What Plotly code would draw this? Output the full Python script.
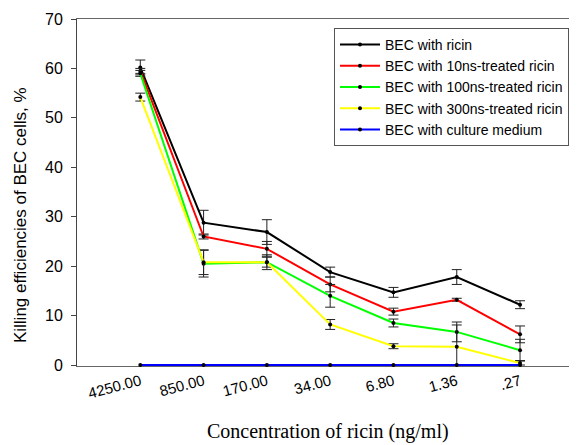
import plotly.graph_objects as go

categories = ["4250.00", "850.00", "170.00", "34.00", "6.80", "1.36", ".27"]
series_names = ["BEC with ricin", "BEC with 10ns-treated ricin", "BEC with 100ns-treated ricin",
                "BEC with 300ns-treated ricin", "BEC with culture medium"]
colors = ["#000000", "#ff0000", "#00ff00", "#ffff00", "#0000ff"]

ricin = [60.2, 28.8, 26.9, 18.8, 14.7, 17.8, 12.2]
ricin_err = [1.5, 2.5, 2.5, 1.0, 1.0, 1.5, 0.8]
ricin_err_minus = [1.5, 2.5, 2.5, 1.0, 1.0, 1.5, 0.8]
ns10 = [59.5, 26.0, 23.5, 16.3, 10.8, 13.2, 6.2]
ns10_err = [0.5, 0.5, 1.5, 1.5, 0.7, 0.3, 1.7]
ns10_err_minus = [0.5, 0.5, 1.5, 1.5, 0.7, 0.3, 1.7]
ns100 = [59.0, 20.5, 20.8, 14.0, 8.5, 6.7, 3.0]
ns100_err = [0.6, 2.7, 1.5, 2.3, 0.8, 2.0, 2.2]
ns100_err_minus = [0.6, 2.7, 1.5, 2.3, 0.8, 2.0, 2.2]
ns300 = [54.2, 20.8, 20.8, 8.2, 3.8, 3.7, 0.4]
ns300_err = [0.8, 2.5, 1.0, 1.0, 0.5, 4.4, 0.5]
ns300_err_minus = [0.8, 2.5, 1.0, 1.0, 0.5, 3.7, 0.4]
medium = [0, 0, 0, 0, 0, 0, 0]
medium_err = [0, 0, 0, 0, 0, 0, 0]
medium_err_minus = [0, 0, 0, 0, 0, 0, 0]

x_title = "Concentration of ricin (ng/ml)"
y_title = "Killing efficiencies of BEC cells, %"

values = [ricin, ns10, ns100, ns300, medium]
errors = [ricin_err, ns10_err, ns100_err, ns300_err, medium_err]
errors_minus = [ricin_err_minus, ns10_err_minus, ns100_err_minus, ns300_err_minus, medium_err_minus]

xpos = list(range(1, len(categories) + 1))

fig = go.Figure()
for name, col, vals, errs, errs_m in zip(series_names, colors, values, errors, errors_minus):
    fig.add_trace(go.Scatter(
        x=xpos, y=vals, name=name, mode="lines+markers",
        line=dict(color=col, width=2),
        marker=dict(color="black", size=4, symbol="circle"),
        error_y=dict(type="data", symmetric=False, array=errs, arrayminus=errs_m,
                     visible=any(e > 0 for e in errs),
                     color="#222222", thickness=1, width=5),
        cliponaxis=False,
    ))

font_sans = "Liberation Sans, Arial, sans-serif"
# The page body has an 8px margin, so the figure is offset by 8px right and down.
fig.update_layout(
    width=569, height=437,
    margin=dict(l=69, r=0, t=11, b=79),
    paper_bgcolor="white", plot_bgcolor="white",
    font=dict(family=font_sans, size=15, color="black"),
    showlegend=True,
    legend=dict(x=0.514, y=0.974, xanchor="left", yanchor="top",
                bgcolor="white", bordercolor="#555555", borderwidth=1,
                font=dict(family=font_sans, size=14, color="black"),
                itemwidth=40, tracegroupgap=0),
    xaxis=dict(range=[0, 7.9], tickmode="array", tickvals=xpos, ticktext=categories,
               tickangle=-15, showgrid=False, zeroline=False,
               showline=True, linecolor="#666666", linewidth=1, mirror=True,
               layer="below traces",
               ticks="", tickfont=dict(family=font_sans, size=15, color="black")),
    yaxis=dict(range=[-0.2, 70], tickvals=[0, 10, 20, 30, 40, 50, 60, 70],
               showgrid=False, zeroline=False,
               showline=True, linecolor="#444444", linewidth=1,
               layer="below traces",
               ticks="outside", ticklen=5, tickcolor="#444444",
               ticklabelstandoff=5,
               tickfont=dict(family=font_sans, size=16, color="black")),
    annotations=[
        dict(text=x_title, xref="paper", yref="paper", x=0.502, y=-0.19,
             xanchor="center", yanchor="middle", showarrow=False,
             font=dict(family="Liberation Serif, Times New Roman, serif", size=20, color="black")),
        dict(text=y_title, xref="paper", yref="paper", x=-0.114, y=0.435,
             xanchor="center", yanchor="middle", showarrow=False, textangle=-90,
             font=dict(family=font_sans, size=17, color="black")),
    ],
)

fig.write_html("out.html")
